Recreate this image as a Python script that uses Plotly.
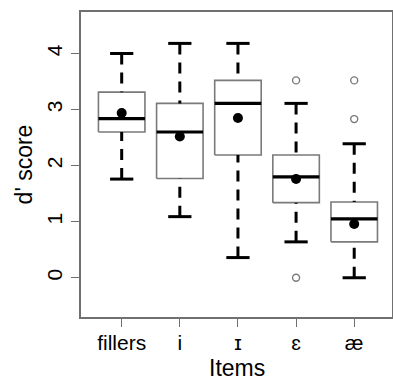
import plotly.graph_objects as go

categories = ["fillers", "i", "ɪ", "ɛ", "æ"]
lower_whisker = [1.76, 1.09, 0.36, 0.64, 0.00]
q1 = [2.60, 1.77, 2.19, 1.34, 0.64]
median = [2.84, 2.60, 3.11, 1.80, 1.05]
q3 = [3.31, 3.11, 3.52, 2.19, 1.35]
upper_whisker = [4.00, 4.18, 4.18, 3.11, 2.39]
means = [2.94, 2.52, 2.85, 1.76, 0.96]
outlier_items = ["ɛ", "ɛ", "æ", "æ"]
outlier_values = [3.52, 0.00, 3.52, 2.83]
y_ticks = [0, 1, 2, 3, 4]

xpos = {c: i + 1 for i, c in enumerate(categories)}
BW = 0.4   # half box width
SW = 0.2   # half staple width

fig = go.Figure()

# boxes
bx, by = [], []
for c, a, b in zip(categories, q1, q3):
    x = xpos[c]
    bx += [x - BW, x + BW, x + BW, x - BW, x - BW, None]
    by += [a, a, b, b, a, None]
fig.add_trace(go.Scatter(x=bx, y=by, mode="lines", line=dict(color="#7a7a7a", width=1.6),
                         hoverinfo="skip", showlegend=False))

# whiskers (dashed, drawn from staple to box edge)
wx, wy = [], []
for c, lw, a, b, uw in zip(categories, lower_whisker, q1, q3, upper_whisker):
    x = xpos[c]
    wx += [x, x, None, x, x, None]
    wy += [uw, b, None, lw, a, None]
fig.add_trace(go.Scatter(x=wx, y=wy, mode="lines", line=dict(color="black", width=3, dash="11px,8px"),
                         hoverinfo="skip", showlegend=False))

# staples
sx, sy = [], []
for c, lw, uw in zip(categories, lower_whisker, upper_whisker):
    x = xpos[c]
    sx += [x - SW, x + SW, None, x - SW, x + SW, None]
    sy += [uw, uw, None, lw, lw, None]
fig.add_trace(go.Scatter(x=sx, y=sy, mode="lines", line=dict(color="black", width=3),
                         hoverinfo="skip", showlegend=False))

# medians
mx, my = [], []
for c, m in zip(categories, median):
    x = xpos[c]
    mx += [x - BW, x + BW, None]
    my += [m, m, None]
fig.add_trace(go.Scatter(x=mx, y=my, mode="lines", line=dict(color="black", width=3.2),
                         hoverinfo="skip", showlegend=False))

# means
fig.add_trace(go.Scatter(x=[xpos[c] for c in categories], y=means, mode="markers",
                         marker=dict(color="black", size=10), showlegend=False))

# outliers
fig.add_trace(go.Scatter(x=[xpos[c] for c in outlier_items], y=outlier_values, mode="markers",
                         marker=dict(symbol="circle-open", color="#7a7a7a", size=7,
                                     line=dict(width=1.4, color="#7a7a7a")),
                         showlegend=False))

font = "Liberation Sans, Arial, sans-serif"
fig.update_layout(
    width=393, height=380,
    margin=dict(l=81, r=1, t=12, b=63),
    paper_bgcolor="white", plot_bgcolor="white",
    font=dict(family=font, color="black"),
    xaxis=dict(range=[0.3, 5.65], tickvals=[xpos[c] for c in categories], ticktext=categories,
               showgrid=False, zeroline=False, showline=True, mirror=True,
               linecolor="#707070", linewidth=1.5, ticks="outside", ticklen=8,
               tickcolor="#707070", tickwidth=1.3, tickfont=dict(size=21),
               ticklabelstandoff=-2, automargin=False),
    yaxis=dict(range=[-0.70, 4.74], tickvals=y_ticks, showgrid=False, zeroline=False,
               showline=True, mirror=True, linecolor="#707070", linewidth=1.5,
               ticks="outside", ticklen=8, tickcolor="#707070", tickwidth=1.3,
               tickangle=-90, tickfont=dict(size=21), ticklabelstandoff=1,
               automargin=False,
               title=dict(text="d' score", font=dict(size=23), standoff=4)),
    annotations=[dict(text="Items", xref="paper", yref="paper", x=0.5, y=0,
                      xanchor="center", yanchor="top", yshift=-36, showarrow=False,
                      font=dict(size=23))],
)

fig.write_html("out.html", post_script="document.body.style.margin='0px';",
               config={"displayModeBar": False})
